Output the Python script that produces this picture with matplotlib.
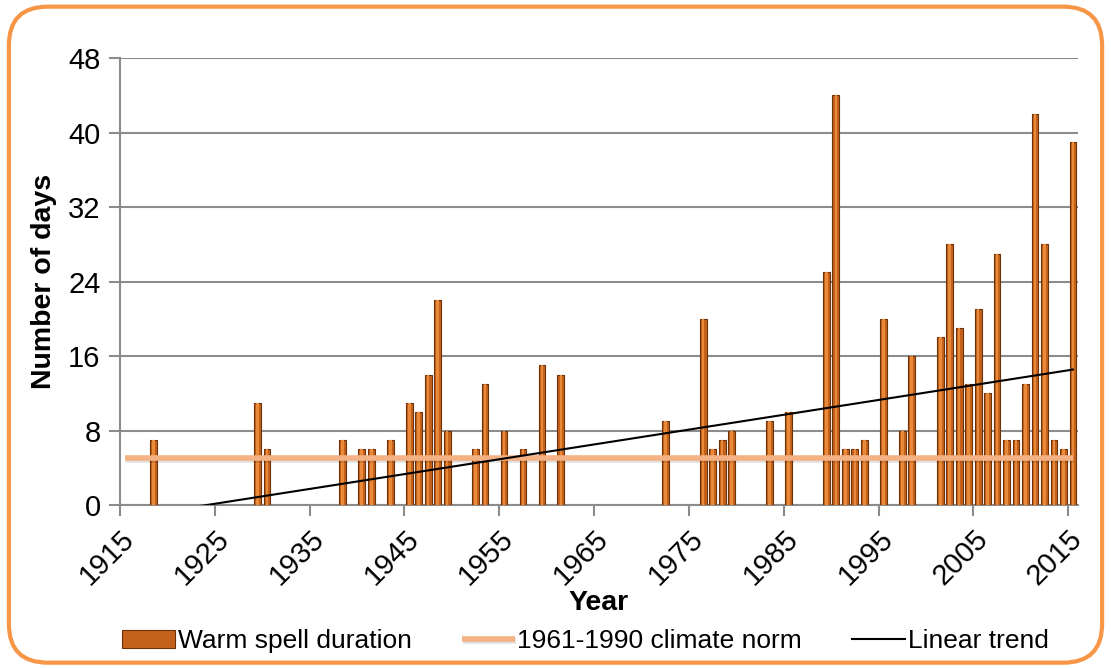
import numpy as np
import matplotlib
matplotlib.use('Agg')
import matplotlib.pyplot as plt
import matplotlib.patheffects as pe
from matplotlib.patches import FancyBboxPatch

plt.rcParams['font.family'] = ['Liberation Sans', 'DejaVu Sans']

#warm spell duration per year (years not listed are 0)
years = [1918, 1929, 1930, 1938, 1940, 1941, 1943, 1945, 1946, 1947, 1948, 1949,
         1952, 1953, 1955, 1957, 1959, 1961, 1972, 1976, 1977, 1978, 1979, 1983,
         1985, 1989, 1990, 1991, 1992, 1993, 1995, 1997, 1998, 2001, 2002, 2003,
         2004, 2005, 2006, 2007, 2008, 2009, 2010, 2011, 2012, 2013, 2014, 2015]
days = [7, 11, 6, 7, 6, 6, 7, 11, 10, 14, 22, 8,
        6, 13, 8, 6, 15, 14, 9, 20, 6, 7, 8, 9,
        10, 25, 44, 6, 6, 7, 20, 8, 16, 18, 28, 19,
        13, 21, 12, 27, 7, 7, 13, 42, 28, 7, 6, 39]
first_year = 1915
last_year = 2015
tick_labels = [str(y) for y in range(1915, 2016, 10)]
y_ticks = [0, 8, 16, 24, 32, 40, 48]

all_years = np.arange(first_year, last_year + 1)
all_days = np.zeros(len(all_years))
for y, d in zip(years, days):
    all_days[y - first_year] = d

# climate norm = mean 1961-1990, trend = least squares over all years
mask = (all_years >= 1961) & (all_years <= 1990)
norm = all_days[mask].mean()
k, b = np.polyfit(all_years, all_days, 1)

fig = plt.figure(figsize=(11.11, 6.68), dpi=100)
ax = fig.add_axes([0.108, 0.244, 0.862, 0.669])

bars = ax.bar(years, days, width=0.72, color='#C4621C', edgecolor='#6E3208',
              linewidth=0.8, zorder=3, label='Warm spell duration')
ax.bar(years, days, width=0.28, color='#E98A3A', linewidth=0, zorder=4)

norm_line, = ax.plot([first_year, last_year], [norm, norm], color='#F4B183', lw=4, zorder=5,
                     solid_capstyle='butt', label='1961-1990 climate norm',
                     path_effects=[pe.SimpleLineShadow(offset=(1, -1.5), alpha=0.12), pe.Normal()])
trend_line, = ax.plot(all_years, k * all_years + b, color='black', lw=1.5, zorder=6,
                      label='Linear trend')

ax.set_xlim(first_year - 0.5, last_year + 0.5)
ax.set_ylim(0, 48)
ax.set_yticks(y_ticks)
ax.set_xticks(np.arange(first_year, last_year + 1, 10) - 0.5)
ax.set_xticklabels(tick_labels, rotation=45, ha='right', va='top', rotation_mode='anchor')
ax.tick_params(axis='both', labelsize=21, color='#8c8c8c', width=1.5, length=8, direction='out')
ax.tick_params(axis='x', pad=6)
ax.tick_params(axis='y', pad=6)
ax.grid(axis='y', color='#8c8c8c', lw=1.5, zorder=0)
ax.set_axisbelow(True)
for s in ['top', 'right']:
    ax.spines[s].set_visible(False)
for s in ['left', 'bottom']:
    ax.spines[s].set_color('#8c8c8c')
    ax.spines[s].set_linewidth(1.5)

ax.set_ylabel('Number of days', fontsize=20.5, fontweight='bold', labelpad=8)
ax.set_xlabel('Year', fontsize=20.5, fontweight='bold', labelpad=0)

fig.legend([bars, norm_line, trend_line],
           ['Warm spell duration', '1961-1990 climate norm', 'Linear trend'],
           loc='center', bbox_to_anchor=(0.527, 0.04), ncol=3,
           frameon=False, fontsize=19, handlelength=2.0, handletextpad=0.1,
           columnspacing=1.9)

border = FancyBboxPatch((0.008, 0.008), 0.984, 0.982, boxstyle='round,pad=0,rounding_size=0.035',
                        transform=fig.transFigure, fill=False, edgecolor='#F79646', lw=3,
                        mutation_aspect=1.66)
fig.patches.append(border)

fig.savefig('out.png', dpi=100)
